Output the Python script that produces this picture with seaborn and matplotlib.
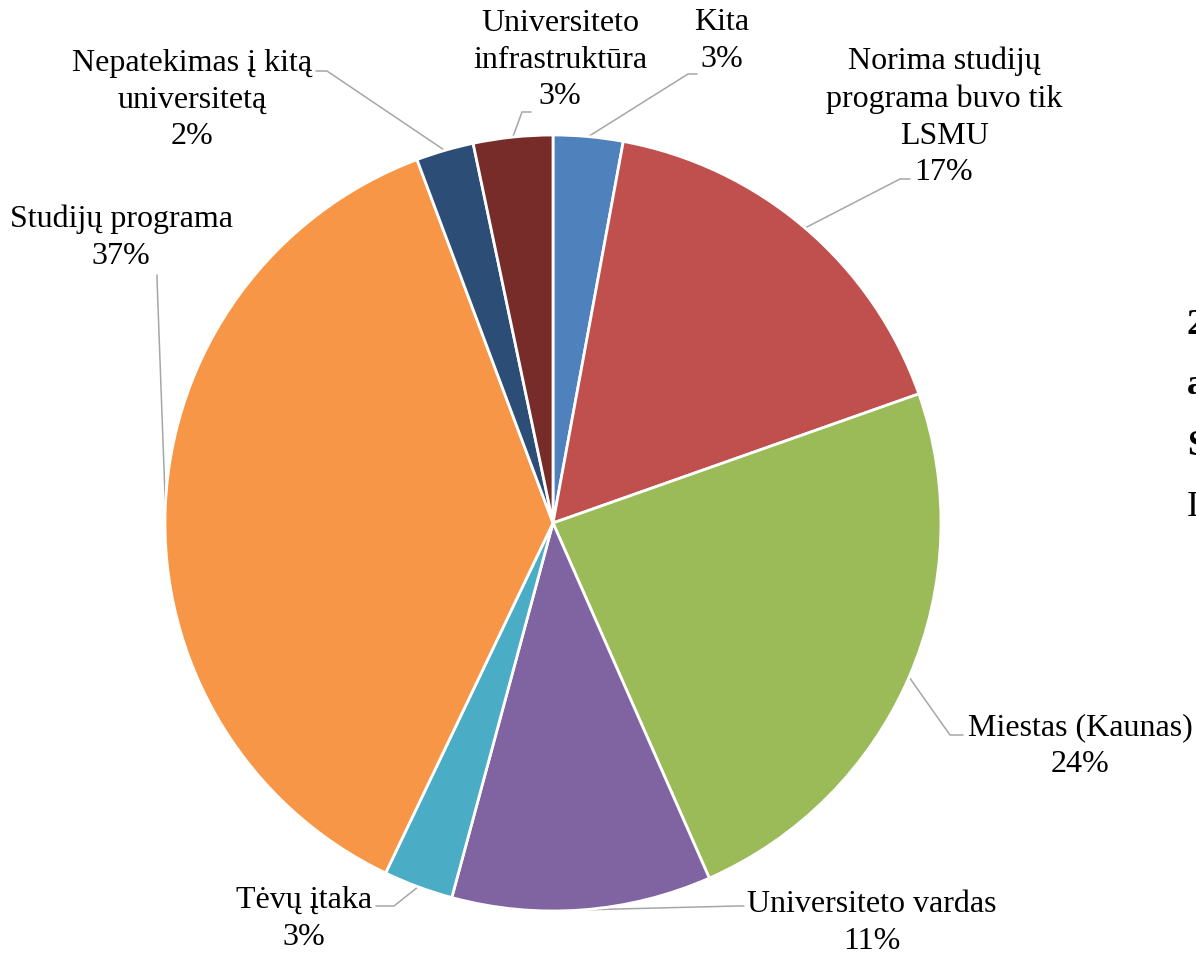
import matplotlib
matplotlib.use("Agg")
import matplotlib.pyplot as plt
import seaborn as sns
import numpy as np

# ---- data ----
categories = ["Kita", "Norima studijų\nprograma buvo tik\nLSMU", "Miestas (Kaunas)",
              "Universiteto vardas", "Tėvų įtaka", "Studijų programa",
              "Nepatekimas į kitą\nuniversitetą", "Universiteto\ninfrastruktūra"]
values = [2.9, 16.7, 23.8, 10.8, 2.9, 37.2, 2.4, 3.3]
colors = ["#4F81BD", "#C0504D", "#9BBB59", "#8064A2", "#4BACC6", "#F79646",
          "#2C4D75", "#772C2A"]

# ---- layout (pixel positions, y from top) ----
W, H = 1196, 954
center_px = (553, 524)
radius_px = 388
label_pos = [(722, 41), (944, 117), (1080, 746), (872, 923), (304, 919),
             (121, 238), (192, 100), (560, 60)]
elbow_pos = [(688, 75), (900, 180), (950, 736), (737, 907), (394, 907),
             (157, 280), (327, 72), (522, 113)]
end_pos = [(697, 75), (910, 180), (963, 736), (744, 907), (376, 907),
           (157, 276), (316, 72), (531, 113)]

sns.set_theme(style="white")
plt.rcParams["font.family"] = ["Liberation Serif", "DejaVu Serif"]

fig = plt.figure(figsize=(W / 100, H / 100), dpi=100)
ax = fig.add_axes([0, 0, 1, 1])


def py(y):
    return H - y


cx, cy = center_px[0], py(center_px[1])
wedges, _ = ax.pie(values, colors=colors, startangle=90, counterclock=False,
                   center=(cx, cy), radius=radius_px, frame=True,
                   wedgeprops=dict(edgecolor="white", linewidth=2.0))
ax.set_xlim(0, W)
ax.set_ylim(0, H)
ax.set_aspect("equal")
ax.axis("off")

total = sum(values)
cum = 0.0
for i, v in enumerate(values):
    mid = cum + v / 2
    cum += v
    ang = np.deg2rad(90 - 360 * mid / total)
    rx = cx + radius_px * np.cos(ang)
    ry = cy + radius_px * np.sin(ang)
    ex, ey = elbow_pos[i]
    tx, ty = end_pos[i]
    ax.plot([rx, ex, tx], [ry, py(ey), py(ty)], color="#A6A6A6", lw=1.1,
            solid_joinstyle="miter", zorder=0)
    lx, ly = label_pos[i]
    ax.text(lx, py(ly), f"{categories[i]}\n{round(v)}%", ha="center",
            va="center", fontsize=23, color="black", linespacing=1.36)

# cropped text fragments at the right edge of the source
for ch, yy, w in [("2", 325, "bold"), ("a", 385, "bold"), ("S", 447, "bold"), ("I", 507, "normal")]:
    ax.text(1187, py(yy), ch, ha="left", va="center", fontsize=26,
            fontweight=w, color="black")

fig.savefig("out.png", dpi=100)
